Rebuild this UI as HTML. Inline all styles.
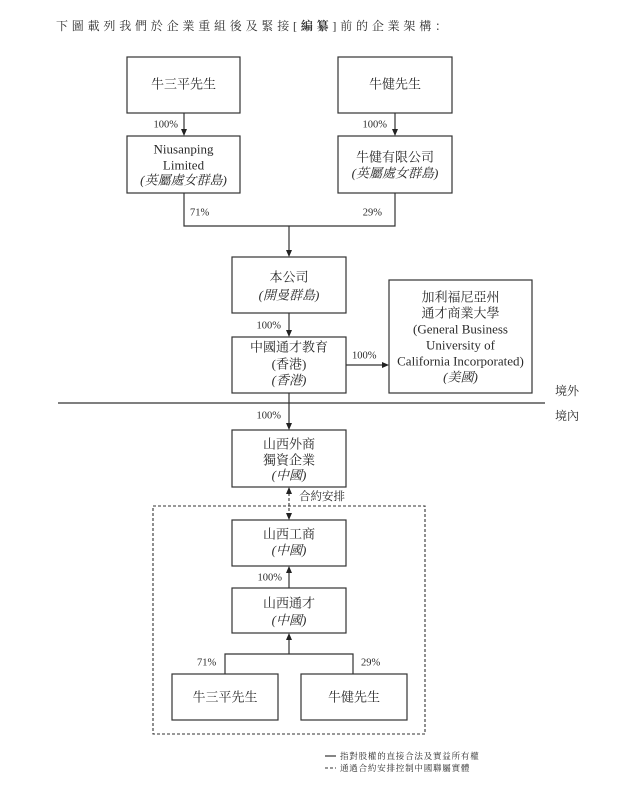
<!DOCTYPE html>
<html><head><meta charset="utf-8"><style>
html,body{margin:0;padding:0;background:#fff;}
body{width:635px;height:786px;position:relative;overflow:hidden;}
.t{position:absolute;left:56px;top:17px;font-family:"Liberation Serif","Noto Serif CJK SC",serif;font-size:12px;letter-spacing:3.8px;color:#333;white-space:nowrap;}
svg{position:absolute;left:0;top:0;}
text{font-family:"Liberation Serif","Noto Serif CJK SC",serif;fill:#2a2a2a;}
.c{font-size:13px;text-anchor:middle;dominant-baseline:central;}
.i{font-style:italic;}
.p{font-size:10.5px;dominant-baseline:central;}
.r{text-anchor:end;}
.l{font-size:8.5px;letter-spacing:0.8px;dominant-baseline:central;}
</style></head><body>
<div class="t">下圖載列我們於企業重組後及緊接[<b>編纂</b>]前的企業架構：</div>
<svg width="635" height="786" viewBox="0 0 635 786">
<g fill="none" stroke="#333" stroke-width="1.2">
<rect x="127" y="57" width="113" height="56"/>
<rect x="338" y="57" width="114" height="56"/>
<rect x="127" y="136" width="113" height="57"/>
<rect x="338" y="136" width="114" height="57"/>
<rect x="232" y="257" width="114" height="56"/>
<rect x="232" y="337" width="114" height="56"/>
<rect x="389" y="280" width="143" height="113"/>
<rect x="232" y="430" width="114" height="57"/>
<rect x="232" y="520" width="114" height="46"/>
<rect x="232" y="588" width="114" height="45"/>
<rect x="172" y="674" width="106" height="46"/>
<rect x="301" y="674" width="106" height="46"/>
<line x1="184" y1="113" x2="184" y2="130"/>
<line x1="395" y1="113" x2="395" y2="130"/>
<polyline points="184,193 184,226 395,226 395,193"/>
<line x1="289" y1="226" x2="289" y2="251"/>
<line x1="289" y1="313" x2="289" y2="331"/>
<line x1="346" y1="365" x2="383" y2="365"/>
<line x1="58" y1="403" x2="545" y2="403"/>
<line x1="289" y1="393" x2="289" y2="424"/>
<line x1="289" y1="588" x2="289" y2="572"/>
<polyline points="225,674 225,654 353,654 353,674"/>
<line x1="289" y1="654" x2="289" y2="639"/>
<line x1="325" y1="756" x2="336" y2="756"/>
</g>
<g fill="none" stroke="#333" stroke-width="1.1" stroke-dasharray="3,2">
<rect x="153" y="506" width="272" height="228"/>
<line x1="289" y1="493" x2="289" y2="514"/>
<line x1="325" y1="768" x2="336" y2="768"/>
</g>
<g fill="#222">
<polygon points="181,129 187,129 184,136"/>
<polygon points="392,129 398,129 395,136"/>
<polygon points="286,250 292,250 289,257"/>
<polygon points="286,330 292,330 289,337"/>
<polygon points="382,362 382,368 389,365"/>
<polygon points="286,423 292,423 289,430"/>
<polygon points="286,494 292,494 289,487"/>
<polygon points="286,513 292,513 289,520"/>
<polygon points="286,573 292,573 289,566"/>
<polygon points="286,640 292,640 289,633"/>
</g>
<text class="c" x="183.5" y="84">牛三平先生</text>
<text class="c" x="395" y="84">牛健先生</text>
<text class="c" x="183.5" y="149">Niusanping</text>
<text class="c" x="183.5" y="165">Limited</text>
<text class="c i" x="183.5" y="180">(英屬處女群島)</text>
<text class="c" x="395" y="157">牛健有限公司</text>
<text class="c i" x="395" y="173">(英屬處女群島)</text>
<text class="c" x="289" y="277">本公司</text>
<text class="c i" x="289" y="295">(開曼群島)</text>
<text class="c" x="289" y="347">中國通才教育</text>
<text class="c" x="289" y="364">(香港)</text>
<text class="c i" x="289" y="380">(香港)</text>
<text class="c" x="460.5" y="297">加利福尼亞州</text>
<text class="c" x="460.5" y="313">通才商業大學</text>
<text class="c" x="460.5" y="329">(General Business</text>
<text class="c" x="460.5" y="345">University of</text>
<text class="c" x="460.5" y="361">California Incorporated)</text>
<text class="c i" x="460.5" y="377">(美國)</text>
<text class="c" x="289" y="444">山西外商</text>
<text class="c" x="289" y="460">獨資企業</text>
<text class="c i" x="289" y="475">(中國)</text>
<text class="c" x="289" y="534">山西工商</text>
<text class="c i" x="289" y="550">(中國)</text>
<text class="c" x="289" y="603">山西通才</text>
<text class="c i" x="289" y="620">(中國)</text>
<text class="c" x="225" y="697">牛三平先生</text>
<text class="c" x="354" y="697">牛健先生</text>
<text class="c" x="567" y="391" style="font-size:12px">境外</text>
<text class="c" x="567" y="416" style="font-size:12px">境內</text>
<text x="299" y="497" style="font-size:11.5px;dominant-baseline:central">合約安排</text>
<text class="p r" x="178" y="125">100%</text>
<text class="p r" x="387" y="125">100%</text>
<text class="p" x="190" y="213">71%</text>
<text class="p r" x="382" y="213">29%</text>
<text class="p r" x="281" y="326">100%</text>
<text class="p" x="352" y="356">100%</text>
<text class="p r" x="281" y="416">100%</text>
<text class="p r" x="282" y="578">100%</text>
<text class="p" x="197" y="663">71%</text>
<text class="p" x="361" y="663">29%</text>
<text class="l" x="340" y="756">指對股權的直接合法及實益所有權</text>
<text class="l" x="340" y="768">通過合約安排控制中國聯屬實體</text>
</svg>
</body></html>
